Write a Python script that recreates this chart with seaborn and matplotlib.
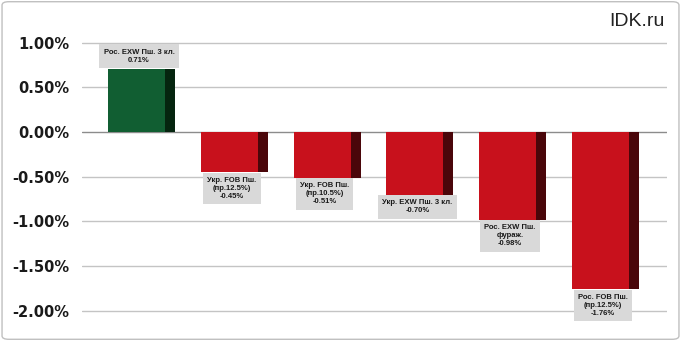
import matplotlib
matplotlib.use("Agg")
import matplotlib.pyplot as plt
import seaborn as sns
import pandas as pd
from matplotlib.patches import FancyBboxPatch

categories = ["Рос. EXW Пш. 3 кл.", "Укр. FOB Пш.\n(пр.12.5%)", "Укр. FOB Пш.\n(пр.10.5%)",
              "Укр. EXW Пш. 3 кл.", "Рос. EXW Пш.\nфураж.", "Рос. FOB Пш.\n(пр.12.5%)"]
values = [0.71, -0.45, -0.51, -0.70, -0.98, -1.76]
yticks = [1.0, 0.5, 0.0, -0.5, -1.0, -1.5, -2.0]

front_colors = ["#115E32" if v > 0 else "#C8111C" for v in values]
side_colors = ["#05250F" if v > 0 else "#4A060A" for v in values]

df = pd.DataFrame({"cat": categories, "val": values})

sns.set_theme(style="white")
fig = plt.figure(figsize=(6.81, 3.41), dpi=100)
ax = fig.add_axes([82 / 681, 1 - 328.5 / 341, 585 / 681, (328.5 - 24.8) / 341])

full_w = 0.722
front_w = 0.614
sns.barplot(data=df, x="cat", y="val", hue="cat", palette=side_colors, legend=False,
            width=full_w, ax=ax, saturation=1, zorder=3)
n_side = len(ax.patches)
sns.barplot(data=df, x="cat", y="val", hue="cat", palette=front_colors, legend=False,
            width=front_w, ax=ax, saturation=1, zorder=4)
for p in ax.patches[n_side:]:
    p.set_x(p.get_x() - (full_w - front_w) / 2)
for p in ax.patches:
    p.set_linewidth(0)

ax.set_xlim(-0.641, 5.663)
ax.set_ylim(-2.2, 1.2)
ax.set_yticks(yticks)
ax.set_yticklabels([f"{t:.2f}%" for t in yticks], fontsize=10.5, fontweight="bold",
                   color="#1a1a1a", family="DejaVu Sans")
ax.tick_params(axis="y", length=0, pad=9)
ax.set_xticks([])
ax.set_xlabel("")
ax.set_ylabel("")
for s in ax.spines.values():
    s.set_visible(False)
for t in yticks:
    ax.axhline(t, color="#8c8c8c" if t == 0 else "#c4c4c4", lw=1, zorder=1)

shift = (full_w - front_w) / 2
for i, (c, v) in enumerate(zip(categories, values)):
    txt = f"{c}\n{v:.2f}%"
    if v > 0:
        y, va = v + 0.055, "bottom"
    else:
        y, va = v - 0.055, "top"
    ax.text(i - shift * 0.5, y, txt, ha="center", va=va, fontsize=5.5, fontweight="bold",
            family="Liberation Sans", color="#1a1a1a", linespacing=1.2, zorder=5,
            clip_on=False,
            bbox=dict(boxstyle="square,pad=0.55", fc="#D9D9D9", ec="none"))

fig.text(665 / 681, 1 - 22 / 341, "IDK.ru", ha="right", va="center", fontsize=14,
         family="Liberation Sans", color="#222222")

border = FancyBboxPatch((0.003, 0.005), 0.994, 0.99, boxstyle="round,pad=0,rounding_size=0.01",
                       transform=fig.transFigure, fc="none", ec="#c0c0c0", lw=1)
fig.patches.append(border)

fig.savefig("out.png", dpi=100)
